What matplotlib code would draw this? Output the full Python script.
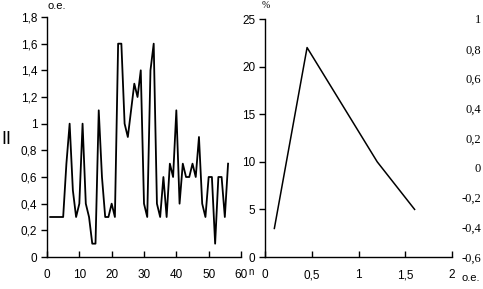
import matplotlib
matplotlib.use('Agg')
import matplotlib.pyplot as plt
import numpy as np

# left chart: signal vs n
n = np.arange(1, 57)
val = [0.3, 0.3, 0.3, 0.3, 0.3, 0.7, 1.0, 0.5, 0.3, 0.4,
       1.0, 0.4, 0.3, 0.1, 0.1, 1.1, 0.6, 0.3, 0.3, 0.4,
       0.3, 1.6, 1.6, 1.0, 0.9, 1.1, 1.3, 1.2, 1.4, 0.4,
       0.3, 1.4, 1.6, 0.4, 0.3, 0.6, 0.3, 0.7, 0.6, 1.1,
       0.4, 0.7, 0.6, 0.6, 0.7, 0.6, 0.9, 0.4, 0.3, 0.6,
       0.6, 0.1, 0.6, 0.6, 0.3, 0.7]

# right chart: percent vs o.e.
xr = [0.1, 0.45, 1.2, 1.6]
yr = [3, 22, 10, 5]

left_yt = [0, 0.2, 0.4, 0.6, 0.8, 1.0, 1.2, 1.4, 1.6, 1.8]
left_xt = [0, 10, 20, 30, 40, 50, 60]
right_yt = [0, 5, 10, 15, 20, 25]
right_xt = [0, 0.5, 1, 1.5, 2]
sec_yt = [-0.6, -0.4, -0.2, 0, 0.2, 0.4, 0.6, 0.8, 1.0]

def fmt(v):
    s = ('%g' % v).replace('.', ',')
    return s

W, H = 483, 289
fig = plt.figure(figsize=(W / 100, H / 100), dpi=100)
plt.rcParams['font.family'] = 'Liberation Sans'

ax1 = fig.add_axes([47 / W, 32 / H, 194 / W, 240 / H])
ax1.plot(n, val, color='black', lw=1.3)
ax1.set_xlim(0, 60)
ax1.set_ylim(0, 1.8)
ax1.set_yticks(left_yt)
ax1.set_yticklabels([fmt(v) for v in left_yt])
ax1.set_xticks(left_xt)
ax1.set_xticklabels([str(v) for v in left_xt])

ax2 = fig.add_axes([265 / W, 32 / H, 187 / W, 238 / H])
ax2.plot(xr, yr, color='black', lw=1.1)
ax2.set_xlim(0, 2)
ax2.set_ylim(0, 25)
ax2.set_yticks(right_yt)
ax2.set_yticklabels([str(v) for v in right_yt])
ax2.set_xticks(right_xt)
ax2.set_xticklabels([fmt(v) for v in right_xt])

for ax in (ax1, ax2):
    for s in ('top', 'right'):
        ax.spines[s].set_visible(False)
    for s in ('left', 'bottom'):
        ax.spines[s].set_linewidth(1.0)
    ax.tick_params(axis='y', direction='out', length=4, width=1.0, pad=3, labelsize=8.5)
    ax.tick_params(axis='x', direction='in', length=4, width=1.0, pad=9, labelsize=8.5)

ax3 = ax2.twinx()
ax3.set_ylim(-0.6, 1.0)
ax3.set_yticks(sec_yt)
ax3.set_yticklabels([fmt(v) for v in sec_yt], family='Liberation Serif', fontsize=9)
for lab in ax3.get_yticklabels():
    lab.set_horizontalalignment('right')
ax3.tick_params(axis='y', length=0, pad=21)
for s in ax3.spines.values():
    s.set_visible(False)

fig.text(47 / W, 1 - 6 / H, 'o.e.', fontsize=8, ha='left', va='center')
fig.text(266 / W, 1 - 6 / H, '%', fontsize=7, ha='center', va='center', family='Liberation Serif')
fig.text(251 / W, 1 - 272 / H, 'n', fontsize=7, ha='center', va='center')
fig.text(462 / W, 1 - 278 / H, 'o.e.', fontsize=8, ha='left', va='center')
fig.text(6 / W, 1 - 139 / H, 'II', fontsize=13, ha='center', va='center')

fig.savefig('out.png', dpi=100)
